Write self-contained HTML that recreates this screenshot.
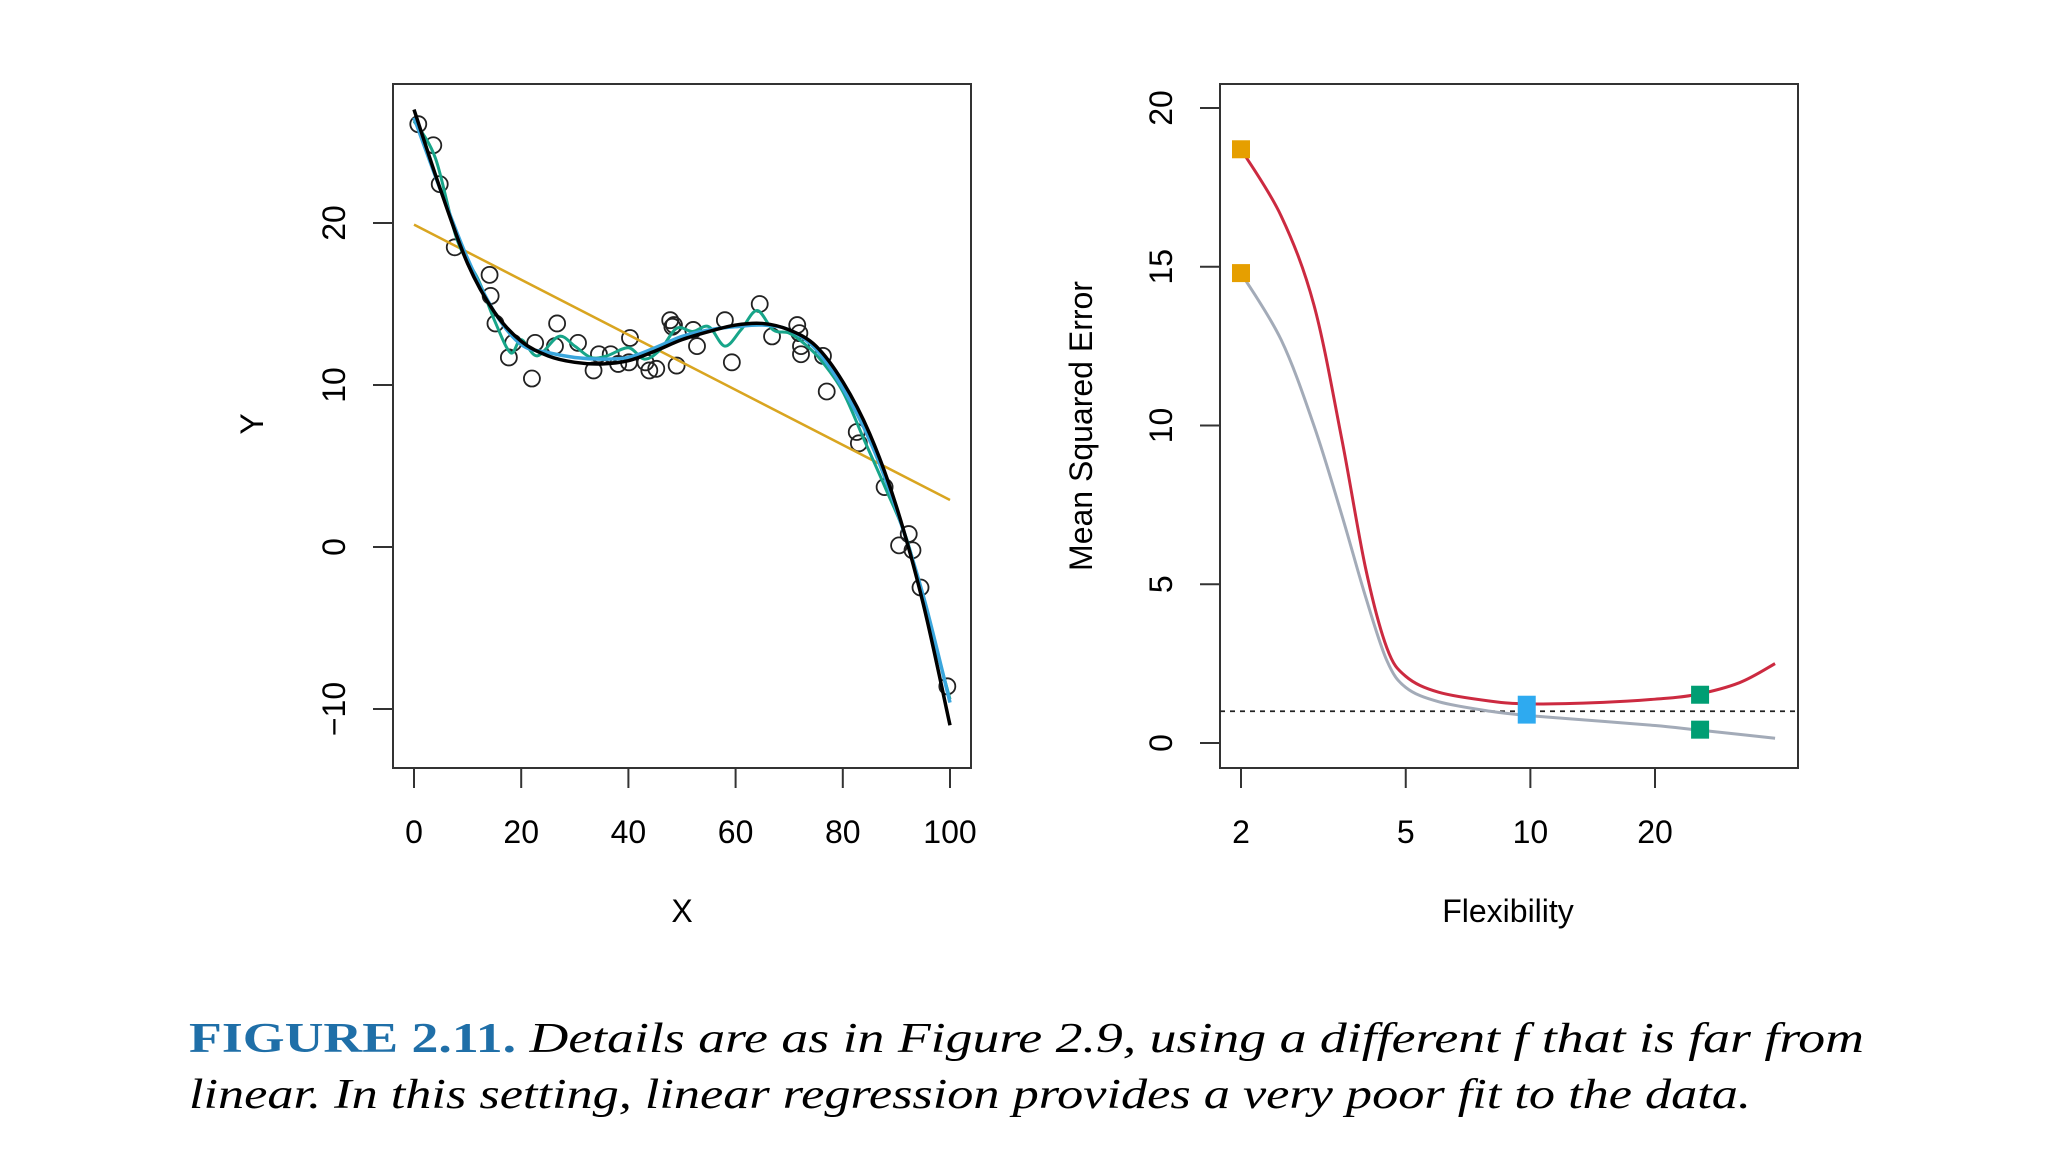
<!DOCTYPE html>
<html><head><meta charset="utf-8"><style>
html,body{margin:0;padding:0;background:#fff;}
svg{display:block;}
text{font-family:"Liberation Sans",sans-serif;fill:#000;}
</style></head><body>
<svg id="fig" width="2048" height="1152" viewBox="0 0 2048 1152" xmlns="http://www.w3.org/2000/svg">
<g id="left"></g>
<g id="right"></g>
<text x="189" y="1052" style="font-family:'Liberation Serif',serif;font-size:42px" textLength="1675" lengthAdjust="spacingAndGlyphs"><tspan font-weight="bold" font-style="normal" fill="#1f6fa8">FIGURE 2.11.</tspan><tspan font-style="italic"> Details are as in Figure 2.9, using a different f that is far from</tspan></text>
<text x="189" y="1108" style="font-family:'Liberation Serif',serif;font-size:42px;font-style:italic" textLength="1562" lengthAdjust="spacingAndGlyphs">linear. In this setting, linear regression provides a very poor fit to the data.</text>
</svg>
<script>
// ---- Left panel data ----
const ptX=[0.8,3.6,4.8,7.6,14.1,14.3,15.2,17.7,18.5,22.0,22.6,26.7,26.3,30.6,33.5,34.5,36.7,38.1,40.1,40.3,43.2,43.9,45.2,47.8,48.2,48.5,49.0,52.1,52.8,58.0,59.3,64.5,66.8,71.5,71.9,72.2,72.2,76.3,77.0,82.6,83.0,87.8,90.5,92.3,93.0,94.5,99.5];
const ptY=[26.1,24.8,22.4,18.5,16.8,15.5,13.8,11.7,12.6,10.4,12.6,13.8,12.4,12.6,10.9,11.9,11.9,11.3,11.4,12.9,11.4,10.9,11.0,14.0,13.6,13.7,11.2,13.4,12.4,14.0,11.4,15.0,13.0,13.7,13.2,12.4,11.9,11.8,9.6,7.1,6.4,3.7,0.1,0.8,-0.2,-2.5,-8.6];
const trueX=[0,5,10,15,20,25,30,35,40,45,50,55,60,65,70,75,80,85,90,95,100];
const trueY=[27,22,17.5,14.5,12.7,11.8,11.4,11.3,11.5,12.1,12.8,13.3,13.7,13.8,13.4,12.4,10.2,7,2.5,-3.5,-11];
const smoothY=[26.5,22,17.8,14.5,12.5,12.0,11.7,11.6,11.7,12.3,13.0,13.4,13.6,13.7,13.4,12.2,9.8,6.6,2.3,-3,-9.6];
const wigX=[0,4,8,12,15,18,20,23,27,30,33,36,40,43,46,49,52,55,58,61,64,67,70,73,76,80,84,88,92,96,100];
const wigY=[26.3,24,19,16.5,14,12,12.8,11.8,13,12.4,11.7,11.8,12.3,11.6,12.2,13.5,13.3,13.6,12.4,13.4,14.6,13.4,13.2,12.5,11.5,9.6,6.6,3.6,0.4,-4.5,-9.4];
const linX=[0,100];
const linY=[19.9,2.9];
const xTicksL=[0,20,40,60,80,100];
const yTicksL=[-10,0,10,20];
// ---- Right panel data ----
const flex=[2,2.5,3,3.5,4,4.5,5,6,8,10,15,20,25,32,39];
const testMSE=[18.7,16.6,13.8,9.6,5.5,3.0,2.1,1.6,1.32,1.23,1.28,1.38,1.52,1.9,2.5];
const trainMSE=[14.8,12.7,10,7.2,4.6,2.6,1.75,1.3,1.0,0.86,0.68,0.55,0.42,0.27,0.15];
const irreducible=1.0;
const xTicksR=[2,5,10,20];
const yTicksR=[0,5,10,15,20];
const markFlex=[2,9.8,25.7];
const markTest=[18.7,1.3,1.52];
const markTrain=[14.8,0.8,0.42];
const markColors=['#e69f00','#2eaaf0','#009e73'];

const NS='http://www.w3.org/2000/svg';
function el(tag,attrs,parent){const e=document.createElementNS(NS,tag);for(const k in attrs)e.setAttribute(k,attrs[k]);parent.appendChild(e);return e;}
function spline(pts){let d='M'+pts[0][0]+','+pts[0][1];for(let i=0;i<pts.length-1;i++){const p0=pts[Math.max(i-1,0)],p1=pts[i],p2=pts[i+1],p3=pts[Math.min(i+2,pts.length-1)];const c1x=p1[0]+(p2[0]-p0[0])/6,c1y=p1[1]+(p2[1]-p0[1])/6,c2x=p2[0]-(p3[0]-p1[0])/6,c2y=p2[1]-(p3[1]-p1[1])/6;d+=' C'+c1x+','+c1y+' '+c2x+','+c2y+' '+p2[0]+','+p2[1];}return d;}

// Left scales
const xL=v=>414+v*5.36, yL=v=>547-v*16.2;
const L=document.getElementById('left');
const boxL=el('rect',{x:393,y:84,width:578,height:684,fill:'none',stroke:'#333','stroke-width':2},L);


xTicksL.forEach(t=>{const ln=el('line',{x1:xL(t),x2:xL(t),y1:768,y2:788,stroke:'#333','stroke-width':2},L);


const tx=el('text',{x:xL(t),y:843,'text-anchor':'middle','font-size':32},L);tx.textContent=t;

});
yTicksL.forEach(t=>{const ln=el('line',{x1:373,x2:393,y1:yL(t),y2:yL(t),stroke:'#333','stroke-width':2},L);


const tx=el('text',{x:0,y:0,'text-anchor':'middle','font-size':32,transform:'translate(345,'+yL(t)+') rotate(-90)'},L);tx.textContent=t===-10?'\u221210':t;

});
const xt=el('text',{x:682,y:922,'text-anchor':'middle','font-size':32},L);xt.textContent='X';


const yt=el('text',{x:0,y:0,'text-anchor':'middle','font-size':32,transform:'translate(263,424) rotate(-90)'},L);yt.textContent='Y';


ptX.forEach((x,i)=>{const c=el('circle',{cx:xL(x),cy:yL(ptY[i]),r:8,fill:'none',stroke:'#222','stroke-width':1.8},L);

});
const lin=el('path',{d:'M'+xL(linX[0])+','+yL(linY[0])+' L'+xL(linX[1])+','+yL(linY[1]),stroke:'#d9a520','stroke-width':2.5,fill:'none'},L);


const wig=el('path',{d:spline(wigX.map((x,i)=>[xL(x),yL(wigY[i])])),stroke:'#17a589','stroke-width':3,fill:'none'},L);


const sm=el('path',{d:spline(trueX.map((x,i)=>[xL(x),yL(smoothY[i])])),stroke:'#3aa6dd','stroke-width':3.5,fill:'none'},L);


const tr=el('path',{d:spline(trueX.map((x,i)=>[xL(x),yL(trueY[i])])),stroke:'#000','stroke-width':3.5,fill:'none'},L);



// Right scales
const xR=v=>1241+(Math.log10(v)-Math.log10(2))*414, yR=v=>743-v*31.75;
const R=document.getElementById('right');
const boxR=el('rect',{x:1220,y:84,width:578,height:684,fill:'none',stroke:'#333','stroke-width':2},R);


xTicksR.forEach(t=>{const ln=el('line',{x1:xR(t),x2:xR(t),y1:768,y2:788,stroke:'#333','stroke-width':2},R);


const tx=el('text',{x:xR(t),y:843,'text-anchor':'middle','font-size':32},R);tx.textContent=t;

});
yTicksR.forEach(t=>{const ln=el('line',{x1:1200,x2:1220,y1:yR(t),y2:yR(t),stroke:'#333','stroke-width':2},R);


const tx=el('text',{x:0,y:0,'text-anchor':'middle','font-size':32,transform:'translate(1172,'+yR(t)+') rotate(-90)'},R);tx.textContent=t;

});
const xt2=el('text',{x:1508,y:922,'text-anchor':'middle','font-size':32},R);xt2.textContent='Flexibility';


const yt2=el('text',{x:0,y:0,'text-anchor':'middle','font-size':32,transform:'translate(1092,426) rotate(-90)'},R);yt2.textContent='Mean Squared Error';


const dl=el('line',{x1:1220,x2:1798,y1:yR(irreducible),y2:yR(irreducible),stroke:'#222','stroke-width':1.8,'stroke-dasharray':'5,5'},R);


const trn=el('path',{d:spline(flex.map((f,i)=>[xR(f),yR(trainMSE[i])])),stroke:'#a3abb8','stroke-width':3,fill:'none'},R);


const tst=el('path',{d:spline(flex.map((f,i)=>[xR(f),yR(testMSE[i])])),stroke:'#cc2a40','stroke-width':3,fill:'none'},R);


markFlex.forEach((f,i)=>{
 if(i===1){const r=el('rect',{x:xR(f)-9,y:yR(markTest[i])-6,width:18,height:yR(markTrain[i])-yR(markTest[i])+12,fill:markColors[i]},R);
 
 }
 else{[markTest[i],markTrain[i]].forEach(v=>{const r=el('rect',{x:xR(f)-9,y:yR(v)-9,width:18,height:18,fill:markColors[i]},R);
 
 });}
});
</script>
</body></html>
